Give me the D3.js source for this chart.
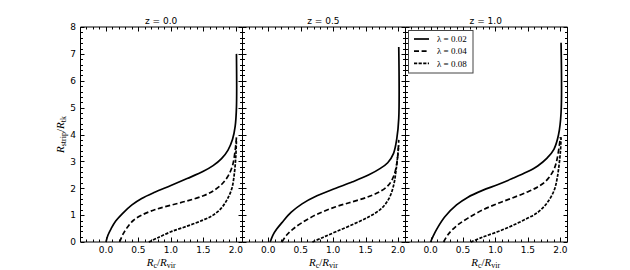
<!DOCTYPE html>
<html><head><meta charset="utf-8">
<script src="https://cdn.jsdelivr.net/npm/d3@7"></script>
<style>body{margin:0;background:#fff} text{fill:#000}</style>
</head><body>
<svg id="c" width="630" height="270"></svg>
<script>
const panelTitles = ["z = 0.0", "z = 0.5", "z = 1.0"];
const seriesLabels = ["λ = 0.02", "λ = 0.04", "λ = 0.08"];
const xTicks = [0.0, 0.5, 1.0, 1.5, 2.0];
const yTicks = [0, 1, 2, 3, 4, 5, 6, 7, 8];

// z = 0.0
const z0_l002 = [[0,0],[0.03,0.25],[0.08,0.5],[0.15,0.78],[0.25,1.05],[0.4,1.38],[0.55,1.62],[0.75,1.85],[1.0,2.1],[1.25,2.36],[1.5,2.63],[1.65,2.84],[1.78,3.1],[1.88,3.42],[1.95,3.82],[1.99,4.3],[2.01,5.0],[2.01,7.0]];
const z0_l004 = [[0.21,0],[0.26,0.28],[0.33,0.55],[0.42,0.8],[0.55,1.0],[0.75,1.2],[1.0,1.37],[1.25,1.53],[1.5,1.72],[1.65,1.9],[1.78,2.14],[1.88,2.45],[1.95,2.85],[1.99,3.4],[2.01,3.9]];
const z0_l008 = [[0.66,0],[0.8,0.16],[1.0,0.38],[1.25,0.59],[1.5,0.82],[1.65,1.0],[1.78,1.27],[1.87,1.6],[1.94,2.0],[1.98,2.6],[2.0,3.2],[2.01,3.8]];
// z = 0.5
const z05_l002 = [[0.03,0],[0.07,0.25],[0.13,0.48],[0.21,0.72],[0.35,1.1],[0.52,1.42],[0.75,1.72],[1.04,2.0],[1.3,2.24],[1.55,2.5],[1.72,2.73],[1.84,2.95],[1.93,3.3],[1.98,3.85],[2.01,4.6],[2.01,7.26]];
const z05_l004 = [[0.21,0],[0.28,0.25],[0.38,0.48],[0.52,0.72],[0.75,1.03],[1.04,1.31],[1.3,1.5],[1.55,1.69],[1.74,1.9],[1.86,2.14],[1.94,2.5],[1.99,3.1],[2.01,3.8]];
const z05_l008 = [[0.68,0],[0.85,0.18],[1.04,0.38],[1.3,0.65],[1.55,0.94],[1.74,1.24],[1.86,1.62],[1.93,2.1],[1.97,2.7],[2.01,3.6]];
// z = 1.0
const z1_l002 = [[0,0],[0.04,0.22],[0.1,0.5],[0.22,0.94],[0.4,1.38],[0.57,1.66],[0.8,1.92],[1.03,2.13],[1.25,2.35],[1.49,2.61],[1.65,2.83],[1.79,3.11],[1.9,3.45],[1.97,3.98],[2.01,4.8],[2.01,7.41]];
const z1_l004 = [[0.2,0],[0.27,0.28],[0.4,0.6],[0.57,0.88],[0.8,1.19],[1.03,1.43],[1.25,1.63],[1.49,1.86],[1.65,2.05],[1.79,2.3],[1.9,2.7],[1.95,3.1],[2.0,3.9]];
const z1_l008 = [[0.62,0],[0.8,0.18],[1.03,0.38],[1.25,0.6],[1.49,0.88],[1.65,1.1],[1.79,1.44],[1.9,1.9],[1.95,2.37],[2.0,3.36],[2.01,3.9]];

const panelData = [[z0_l002, z0_l004, z0_l008],[z05_l002, z05_l004, z05_l008],[z1_l002, z1_l004, z1_l008]];
const dashes = [null, "5,2.6", "3.2,1.4"];

const svg = d3.select("#c");
const left0 = 80, panelW = 162.3, topY = 27, bottomY = 242;
const y = d3.scaleLinear().domain([0, 8]).range([bottomY, topY]);
const font = "DejaVu Sans";
const serif = "Liberation Serif";

panelTitles.forEach((title, i) => {
  const x0 = left0 + i * panelW, x1 = x0 + panelW;
  const x = d3.scaleLinear().domain([-0.4, 2.1]).range([x0, x1]);
  const g = svg.append("g");
  const line = d3.line().x(d => x(d[0])).y(d => y(d[1])).curve(d3.curveCatmullRom.alpha(0.5));
  panelData[i].forEach((s, k) => {
    g.append("path").attr("d", line(s)).attr("fill", "none").attr("stroke", "#000")
      .attr("stroke-width", 1.7).attr("stroke-dasharray", dashes[k]);
  });
  const xa = Math.round(x0) + 0.5, xb = Math.round(x1) + 0.5;
  const tk = g.append("g").attr("stroke", "#000").attr("stroke-width", 1);
  const xminor = d3.range(-4, 22).map(v => v / 10);
  xminor.forEach(v => {
    const major = Math.abs(v * 2 - Math.round(v * 2)) < 1e-6;
    const len = major ? 4.5 : 2.5;
    const px = Math.round(x(v)) + 0.5;
    if (px <= xa + 0.1 || px >= xb - 0.1) return;
    tk.append("line").attr("x1", px).attr("x2", px).attr("y1", bottomY).attr("y2", bottomY - len);
    tk.append("line").attr("x1", px).attr("x2", px).attr("y1", topY).attr("y2", topY + len);
  });
  const yminor = d3.range(0, 41).map(v => v / 5);
  yminor.forEach(v => {
    const major = Math.abs(v - Math.round(v)) < 1e-6;
    const len = major ? 4 : 2.5;
    const py = Math.round(y(v)) + 0.5;
    tk.append("line").attr("x1", xa).attr("x2", xa + len).attr("y1", py).attr("y2", py);
    tk.append("line").attr("x1", xb).attr("x2", xb - len).attr("y1", py).attr("y2", py);
  });
  const fr = g.append("g").attr("stroke", "#000").attr("stroke-width", 1);
  fr.append("line").attr("x1", xa).attr("x2", xa).attr("y1", topY).attr("y2", bottomY);
  fr.append("line").attr("x1", xb).attr("x2", xb).attr("y1", topY).attr("y2", bottomY);
  fr.append("line").attr("x1", xa).attr("x2", xb).attr("y1", topY).attr("y2", topY);
  fr.append("line").attr("x1", xa).attr("x2", xb).attr("y1", bottomY).attr("y2", bottomY);
  xTicks.forEach(v => {
    g.append("text").attr("x", x(v)).attr("y", 253).attr("text-anchor", "middle")
      .attr("font-family", font).attr("font-size", 9).text(v.toFixed(1));
  });
  const xl = g.append("text").attr("x", (x0 + x1) / 2).attr("y", 266).attr("text-anchor", "middle")
    .attr("font-family", serif).attr("font-size", 11);
  xl.append("tspan").attr("font-style", "italic").text("R");
  xl.append("tspan").attr("font-size", 8).attr("dy", 2).text("c");
  xl.append("tspan").attr("dy", -2).text("/");
  xl.append("tspan").attr("font-style", "italic").text("R");
  xl.append("tspan").attr("font-size", 8).attr("dy", 2).text("vir");
  g.append("text").attr("x", (x0 + x1) / 2).attr("y", 24).attr("text-anchor", "middle")
    .attr("font-family", font).attr("font-size", 9).text(title);
});

yTicks.forEach(v => {
  svg.append("text").attr("x", 76).attr("y", y(v) + 3.3).attr("text-anchor", "end")
    .attr("font-family", font).attr("font-size", 9).text(v);
});
const yl = svg.append("text").attr("transform", `translate(64,${(topY + bottomY) / 2}) rotate(-90)`)
  .attr("text-anchor", "middle").attr("font-family", serif).attr("font-size", 11);
yl.append("tspan").attr("font-style", "italic").text("R");
yl.append("tspan").attr("font-size", 8).attr("dy", 2).text("strip");
yl.append("tspan").attr("dy", -2).text("/");
yl.append("tspan").attr("font-style", "italic").text("R");
yl.append("tspan").attr("font-size", 8).attr("dy", 2).text("tk");

const lx = 408.5, ly = 30.5;
const lg = svg.append("g");
lg.append("rect").attr("x", lx).attr("y", ly).attr("width", 64.5).attr("height", 42.5)
  .attr("fill", "#fff").attr("stroke", "#444").attr("stroke-width", 1);
seriesLabels.forEach((lab, k) => {
  const yy = 39 + k * 12.2;
  lg.append("line").attr("x1", 414).attr("x2", 429).attr("y1", yy).attr("y2", yy)
    .attr("stroke", "#000").attr("stroke-width", 1.7).attr("stroke-dasharray", dashes[k]);
  lg.append("text").attr("x", 437).attr("y", yy + 3.2).attr("font-family", serif)
    .attr("font-size", 9).text(lab);
});
</script>
</body></html>
